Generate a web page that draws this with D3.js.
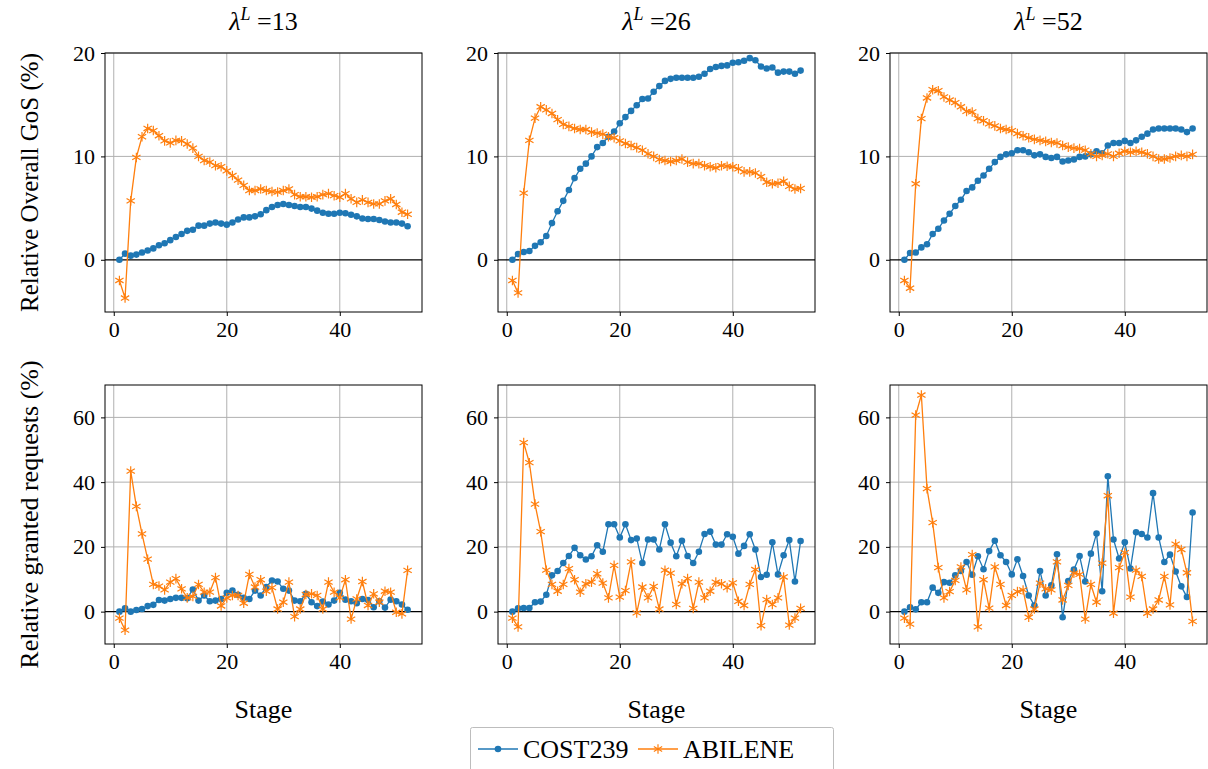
<!DOCTYPE html>
<html><head><meta charset="utf-8">
<script src="https://cdn.jsdelivr.net/npm/d3@7"></script>
<style>
body{margin:0;background:#fff;}
</style></head>
<body><svg id="c" width="1208" height="769"></svg>
<script>
const FONT = "'Liberation Serif', 'Times New Roman', Times, 'DejaVu Serif', serif";
const stages = d3.range(1, 53);
const lambdas = ["13", "26", "52"];
const seriesNames = ["COST239", "ABILENE"];
const gosYTicks = [0, 10, 20];
const reqYTicks = [0, 20, 40, 60];
const xTicks = [0, 20, 40];

const gos13_cost = [0,0.6,0.4,0.5,0.7,0.9,1.1,1.4,1.6,1.9, 2.2,2.5,2.8,2.9,3.3,3.3,3.5,3.6,3.5,3.4, 3.6,3.9,4.1,4.1,4.2,4.4,4.8,5.1,5.3,5.4, 5.3,5.2,5.1,5.1,4.95,4.75,4.55,4.45,4.45,4.55, 4.5,4.35,4.2,4.0,3.95,3.95,3.85,3.7,3.6,3.6, 3.5,3.25];
const gos13_abil = [-2.0,-3.7,5.7,9.9,11.9,12.7,12.5,12.0,11.5,11.3, 11.55,11.5,11.2,10.8,10.0,9.6,9.45,9.1,9.0,8.6, 8.15,7.7,7.2,6.7,6.7,6.85,6.7,6.6,6.55,6.7, 6.85,6.3,6.1,6.1,6.05,6.1,6.3,6.4,6.2,6.05, 6.4,5.9,5.55,5.8,5.55,5.4,5.4,5.7,5.9,5.35, 4.6,4.4];
const gos26_cost = [0,0.55,0.75,0.85,1.35,1.7,2.3,3.55,4.7,5.7, 6.75,7.9,8.8,9.3,10.0,10.9,11.3,11.9,12.4,13.2, 13.8,14.4,14.95,15.55,15.6,16.25,16.8,17.3,17.5,17.6, 17.6,17.6,17.6,17.7,18.0,18.45,18.65,18.75,18.8,19.05, 19.1,19.25,19.5,19.3,18.7,18.5,18.6,18.1,18.2,18.2, 18.0,18.3];
const gos26_abil = [-2.0,-3.2,6.45,11.55,13.7,14.8,14.5,14.15,13.55,13.1, 12.9,12.7,12.6,12.6,12.35,12.25,12.15,11.9,11.8,11.5, 11.25,11.05,10.85,10.6,10.25,10.0,9.7,9.6,9.5,9.6, 9.75,9.45,9.3,9.3,9.1,9.0,8.9,9.1,9.05,9.0, 8.8,8.5,8.5,8.4,8.05,7.5,7.35,7.4,7.6,7.1, 6.85,6.9];
const gos52_cost = [0,0.65,0.7,1.2,1.5,2.5,3.0,3.8,4.45,5.2, 5.8,6.65,7.0,7.65,8.15,8.8,9.45,9.95,10.2,10.3, 10.6,10.6,10.4,10.1,10.2,9.95,9.85,9.95,9.5,9.6, 9.7,9.95,10.0,10.2,10.5,10.3,11.05,11.3,11.3,11.5, 11.3,11.55,11.9,12.2,12.6,12.7,12.7,12.7,12.7,12.6, 12.35,12.7];
const gos52_abil = [-2.0,-2.75,7.35,13.65,15.65,16.45,16.35,15.75,15.45,15.2, 14.8,14.35,14.3,13.65,13.45,13.15,12.95,12.7,12.6,12.5, 12.2,12.0,11.8,11.65,11.55,11.45,11.35,11.3,11.05,10.9, 10.8,10.75,10.6,10.25,10.0,10.1,10.25,10.0,10.3,10.5, 10.4,10.5,10.4,10.25,10.0,9.75,9.75,9.85,10.0,10.1, 10.0,10.2];
const req13_cost = [0,1.0,0,0.5,0.8,1.7,2.1,3.6,3.4,3.9, 4.25,4.25,4.15,6.85,3.4,5.0,3.2,3.4,3.9,5.8, 6.5,5.2,4.25,3.9,6.5,5.0,7.6,9.6,9.3,7.05, 6.5,3.4,3.2,5.5,2.9,1.7,3.1,2.2,3.4,5.8, 3.7,3.2,2.6,3.9,3.6,1.35,3.2,1.25,3.7,3.2, 2.2,0.6];
const req13_abil = [-2.0,-5.7,43.4,32.5,24.0,16.2,8.4,7.9,6.7,9.1, 10.2,7.05,4.25,4.7,8.4,6.0,6.0,10.5,1.75,4.25, 5.0,5.0,2.6,11.5,7.6,9.85,6.3,7.4,0.8,2.9, 9.1,-1.55,0.8,5.3,5.5,5.0,0.8,9.1,6.0,4.25, 9.85,-2.3,3.9,9.3,1.9,5.5,2.9,6.3,6.0,-0.2, -0.7,12.75];
const req26_cost = [0,1.0,1.1,1.1,2.9,3.1,5.2,11.2,12.55,15.0, 17.2,19.7,17.4,16.1,17.1,20.5,18.5,27.0,27.0,22.9, 27.0,22.1,22.6,15.0,22.3,22.3,19.2,27.0,21.3,17.1, 21.9,17.2,15.0,18.5,24.0,24.7,20.7,20.7,23.9,23.1, 17.9,20.3,23.9,19.2,10.7,11.4,21.4,11.5,17.4,22.1, 9.3,21.8];
const req26_abil = [-2.0,-4.7,52.2,46.0,33.2,24.7,12.8,8.4,6.3,8.4, 13.3,9.85,6.0,8.6,9.1,11.7,8.8,4.25,14.3,4.5, 6.5,15.35,-0.4,7.6,4.25,7.8,0.8,12.8,11.9,2.2, 8.6,10.2,1.0,9.1,4.25,6.3,9.1,8.6,7.4,8.9, 3.2,1.9,8.4,13.0,-4.35,3.7,2.2,4.25,10.7,-4.15, -2.0,1.0];
const req52_cost = [0,1.35,0.7,2.9,2.9,7.4,5.8,9.1,8.9,11.2, 12.55,15.35,11.4,17.1,13.1,18.7,21.9,17.4,15.35,11.5, 16.2,11.0,5.0,1.9,12.55,5.0,8.1,17.7,-1.75,9.45, 13.0,17.2,9.3,17.9,24.1,6.3,41.8,22.3,16.4,21.4, 13.3,24.5,24.0,22.9,36.6,22.9,15.35,17.6,12.4,7.8, 4.5,30.6];
const req52_abil = [-2.0,-3.85,60.7,66.9,38.0,27.5,13.6,4.25,6.2,9.65, 13.8,6.7,17.6,-4.7,9.85,1.1,13.8,8.4,1.9,5.0, 6.2,6.7,-1.75,0.8,8.8,7.05,6.7,15.35,3.6,8.1, 11.9,11.5,-2.3,8.4,2.9,15.0,35.8,-0.5,13.6,18.2, 4.5,12.8,10.9,-0.5,0.8,3.6,10.9,2.1,20.85,19.2, 12.0,-3.0];

const colors = {COST239: "#1f77b4", ABILENE: "#ff7f0e"};
const panels = [
  {row:0,col:0,cost:gos13_cost,abil:gos13_abil},
  {row:0,col:1,cost:gos26_cost,abil:gos26_abil},
  {row:0,col:2,cost:gos52_cost,abil:gos52_abil},
  {row:1,col:0,cost:req13_cost,abil:req13_abil},
  {row:1,col:1,cost:req26_cost,abil:req26_abil},
  {row:1,col:2,cost:req52_cost,abil:req52_abil}
];

const colLeft = [105, 498, 890];
const pw = 317;
const rowTop = [53, 385];
const ph = 259;
const yDomains = [[-5.05, 20], [-10, 70]];
const yTicksRow = [gosYTicks, reqYTicks];

const svg = d3.select("#c");

function txt(sel){ return sel.style("font-family", FONT).attr("fill", "#000"); }

function asteriskPath(r){
  let p = "";
  [90, 30, -30].forEach(a => {
    const t = a*Math.PI/180, dx = r*Math.cos(t), dy = r*Math.sin(t);
    p += `M${-dx},${dy}L${dx},${-dy}`;
  });
  return p;
}

panels.forEach(P => {
  const x0 = colLeft[P.col], y0 = rowTop[P.row];
  const g = svg.append("g").attr("transform", `translate(${x0},${y0})`);
  const x = d3.scaleLinear().domain([-1.55, 54.55]).range([0, pw]);
  const y = d3.scaleLinear().domain(yDomains[P.row]).range([ph, 0]);
  const ticks = yTicksRow[P.row];

  g.append("g").selectAll("line").data(xTicks).join("line")
    .attr("x1", d => x(d)).attr("x2", d => x(d)).attr("y1", 0).attr("y2", ph)
    .attr("stroke", "#b0b0b0").attr("stroke-width", 1);
  g.append("g").selectAll("line").data(ticks.filter(t => t !== 0)).join("line")
    .attr("x1", 0).attr("x2", pw).attr("y1", d => y(d)).attr("y2", d => y(d))
    .attr("stroke", "#b0b0b0").attr("stroke-width", 1);
  g.append("line").attr("x1", 0).attr("x2", pw).attr("y1", y(0)).attr("y2", y(0))
    .attr("stroke", "#000").attr("stroke-width", 1.3);

  const clip = "clip" + P.row + P.col;
  g.append("clipPath").attr("id", clip).append("rect").attr("x", -6).attr("y", 0).attr("width", pw + 12).attr("height", ph);

  const dg = g.append("g").attr("clip-path", `url(#${clip})`);
  const line = d3.line().x((d, i) => x(stages[i])).y(d => y(d));
  [["COST239", P.cost], ["ABILENE", P.abil]].forEach(([name, vals]) => {
    dg.append("path").datum(vals).attr("d", line).attr("fill", "none")
      .attr("stroke", colors[name]).attr("stroke-width", 1.3);
    if (name === "COST239") {
      dg.selectAll(null).data(vals).join("circle")
        .attr("cx", (d, i) => x(stages[i])).attr("cy", d => y(d)).attr("r", 3.3)
        .attr("fill", colors[name]);
    } else {
      dg.selectAll(null).data(vals).join("path")
        .attr("transform", (d, i) => `translate(${x(stages[i])},${y(d)})`)
        .attr("d", asteriskPath(4.8)).attr("stroke", colors[name]).attr("stroke-width", 1.2).attr("fill", "none");
    }
  });

  g.append("rect").attr("x", 0).attr("y", 0).attr("width", pw).attr("height", ph)
    .attr("fill", "none").attr("stroke", "#000").attr("stroke-width", 1);

  const ax = g.append("g").attr("transform", `translate(0,${ph})`)
    .call(d3.axisBottom(x).tickValues(xTicks).tickSize(4).tickPadding(5).tickFormat(d3.format("d")));
  const ay = g.append("g")
    .call(d3.axisLeft(y).tickValues(ticks).tickSize(4).tickPadding(6).tickFormat(d3.format("d")));
  [ax, ay].forEach(a => {
    a.attr("font-family", null);
    a.select(".domain").remove();
    a.selectAll("line").attr("stroke", "#000");
    txt(a.selectAll("text")).style("font-size", "22px");
  });

  if (P.row === 0) {
    const t = txt(svg.append("text")).attr("x", x0 + pw/2).attr("y", 30).attr("text-anchor", "middle").style("font-size", "26px");
    t.append("tspan").attr("font-style", "italic").text("λ");
    t.append("tspan").attr("font-style", "italic").style("font-size", "18px").attr("dy", -10).text("L");
    t.append("tspan").attr("dy", 10).text(" =" + lambdas[P.col]);
  } else {
    txt(svg.append("text")).attr("x", x0 + pw/2).attr("y", 718).attr("text-anchor", "middle")
      .style("font-size", "26px").text("Stage");
  }
});

txt(svg.append("text")).attr("transform", `translate(38,${rowTop[0] + ph/2}) rotate(-90)`)
  .attr("text-anchor", "middle").style("font-size", "25px").text("Relative Overall GoS (%)");
txt(svg.append("text")).attr("transform", `translate(38,${rowTop[1] + ph/2}) rotate(-90)`)
  .attr("text-anchor", "middle").style("font-size", "26px").text("Relative granted requests (%)");

const lg = svg.append("g");
lg.append("rect").attr("x", 470.5).attr("y", 727.5).attr("width", 363).attr("height", 44)
  .attr("fill", "#fff").attr("stroke", "#bdbdbd").attr("stroke-width", 1).attr("rx", 2);
const items = [{name: "COST239", x: 478}, {name: "ABILENE", x: 638}];
items.forEach(it => {
  lg.append("line").attr("x1", it.x).attr("x2", it.x + 40).attr("y1", 749).attr("y2", 749)
    .attr("stroke", colors[it.name]).attr("stroke-width", 1.3);
  if (it.name === "COST239") {
    lg.append("circle").attr("cx", it.x + 20).attr("cy", 749).attr("r", 3.3).attr("fill", colors[it.name]);
  } else {
    lg.append("path").attr("transform", `translate(${it.x + 20},749)`).attr("d", asteriskPath(4.8))
      .attr("stroke", colors[it.name]).attr("stroke-width", 1.2);
  }
  txt(lg.append("text")).attr("x", it.x + 45).attr("y", 758).style("font-size", "26px").text(it.name);
});
</script></body></html>
